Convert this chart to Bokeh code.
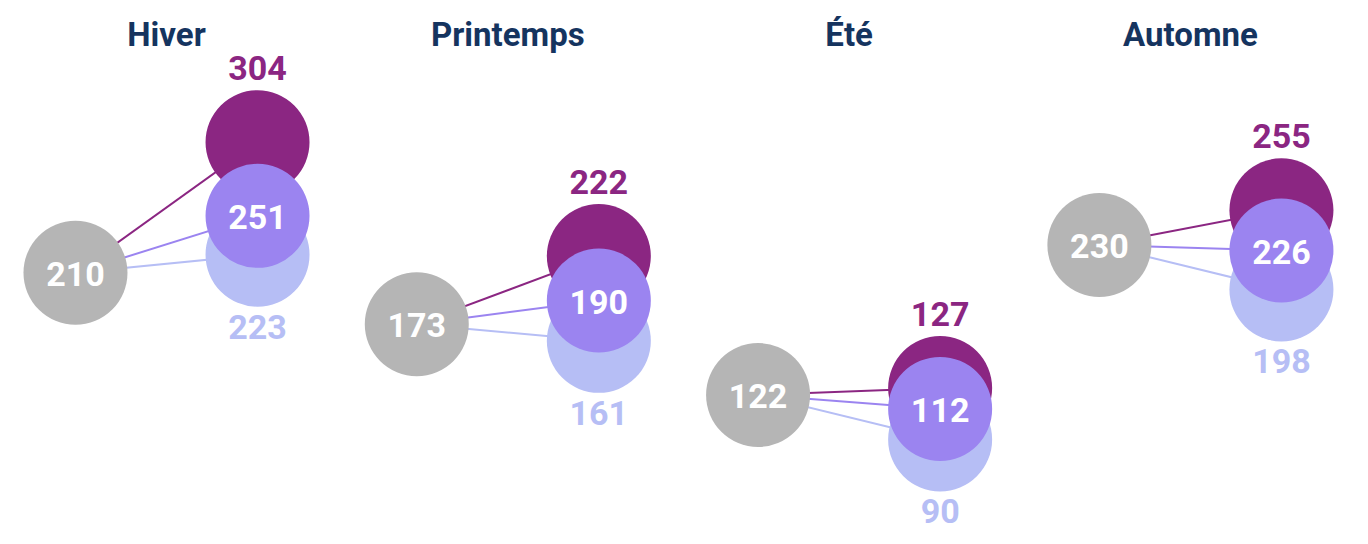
from bokeh.plotting import figure
from bokeh.models import Range1d, ColumnDataSource, Label
from bokeh.core.properties import value
from bokeh.embed import file_html
from bokeh.resources import INLINE

seasons = ["Hiver", "Printemps", "Été", "Automne"]
base = [210, 173, 122, 230]          # grey
top_series = [304, 222, 127, 255]    # dark purple
mid_series = [251, 190, 112, 226]    # medium purple
low_series = [223, 161, 90, 198]     # lavender

GREY = "#B5B5B5"
DARK = "#8B2682"
MID = "#9B84F0"
LIGHT = "#B6BEF5"
TITLE = "#15345F"
FONT = value("Roboto")

W, H = 1360, 540
XSCALE = 341.3      # px per season
YSCALE = 1.3888     # px per unit
x0 = -0.4864
ytop = 406.06
p = figure(width=W, height=H, output_backend="svg", toolbar_location=None,
           x_range=Range1d(x0, x0 + W / XSCALE),
           y_range=Range1d(ytop - H / YSCALE, ytop),
           min_border=0, outline_line_color=None)
p.axis.visible = False
p.grid.visible = False
p.background_fill_color = "white"
p.border_fill_color = "white"

idx = list(range(len(seasons)))
xg = [i - 0.2667 for i in idx]
xr = [i + 0.2667 for i in idx]

# connecting lines (from grey centre to each circle)
for series, col in [(low_series, LIGHT), (mid_series, MID), (top_series, DARK)]:
    p.segment(x0=xg, y0=base, x1=xr, y1=series, line_color=col, line_width=2)

src_g = ColumnDataSource(dict(x=xg, y=base, t=[str(v) for v in base]))
src_low = ColumnDataSource(dict(x=xr, y=low_series, t=[str(v) for v in low_series]))
src_top = ColumnDataSource(dict(x=xr, y=top_series, t=[str(v) for v in top_series]))
src_mid = ColumnDataSource(dict(x=xr, y=mid_series, t=[str(v) for v in mid_series]))

D = 104
p.scatter("x", "y", source=src_g, size=D, fill_color=GREY, line_color=None)
p.scatter("x", "y", source=src_low, size=D, fill_color=LIGHT, line_color=None)
p.scatter("x", "y", source=src_top, size=D, fill_color=DARK, line_color=None)
p.scatter("x", "y", source=src_mid, size=D, fill_color=MID, line_color=None)

FS = "34px"
common = dict(text_font=FONT, text_font_size=FS, text_font_style="bold",
              text_align="center", text_baseline="middle")
p.text("x", "y", text="t", source=src_g, text_color="white", y_offset=1, **common)
p.text("x", "y", text="t", source=src_mid, text_color="white", y_offset=1, **common)
p.text("x", "y", text="t", source=src_top, text_color=DARK, y_offset=-74, **common)
p.text("x", "y", text="t", source=src_low, text_color=LIGHT, y_offset=72, **common)

for i, s in enumerate(seasons):
    p.add_layout(Label(x=i, y=H - 34, y_units="screen", text=s,
                       text_font="Roboto", text_font_size="33px", text_font_style="bold",
                       text_color=TITLE, text_align="center", text_baseline="middle"))

open("out.html", "w").write(file_html(p, INLINE))
